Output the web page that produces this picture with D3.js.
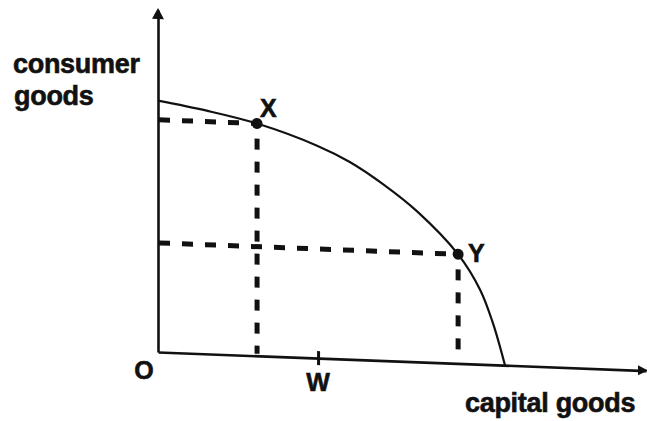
<!DOCTYPE html>
<html>
<head>
<meta charset="utf-8">
<script src="https://cdn.jsdelivr.net/npm/d3@7"></script>
<style>
	html, body { margin: 0; padding: 0; background: #fff; }
	text { font-family: 'Liberation Sans', Arial, sans-serif; font-weight: bold; fill: #111; stroke: #111; stroke-width: 0.6px; }
</style>
</head>
<body>
<div id="app"></div>
<script>

// production possibility frontier (arbitrary units, 0-100 on each axis)
const capitalGoods = [0, 10.0, 20.3, 32.6, 39.3, 46.1, 53.1, 61.5, 66.0, 68.6, 71.1];
const consumerGoods = [73.5, 71.1, 67.9, 62.1, 57.7, 51.6, 44.0, 31.9, 21.8, 12.3, 0];

// the two marked combinations
const pointNames = ['X', 'Y'];
const pointCapital = [20.3, 61.5];
const pointConsumer = [67.9, 31.9];

// tick on the capital goods axis
const tickNames = ['W'];
const tickValues = [32.8];

const axisLabels = ['consumer', 'goods', 'capital goods', 'O'];

const chart = () => {

	const width = 647,
		height = 421,
		margin = { top: 10, left: 158, bottom: 69 },
		plotW = 488,
		plotH = height - margin.top - margin.bottom,
		skew = 2.18; // the scan is slightly tilted

	const xScale = d3.scaleLinear()
		.domain([0, 100])
		.range([0, plotW]);

	const yScale = d3.scaleLinear()
		.domain([0, 100])
		.range([plotH, 0]);

	const svg = d3.select('#app').append('svg')
		.attr('width', width)
		.attr('height', height);

	svg.append('rect')
		.attr('width', width)
		.attr('height', height)
		.attr('fill', '#fff');

	// axis titles
	svg.append('text')
		.attr('x', 13)
		.attr('y', 73)
		.style('font-size', '27px')
		.style('letter-spacing', '-0.3px')
		.text(axisLabels[0]);
	svg.append('text')
		.attr('x', 14)
		.attr('y', 105)
		.style('font-size', '27px')
		.style('letter-spacing', '-0.3px')
		.text(axisLabels[1]);
	svg.append('text')
		.attr('x', 465)
		.attr('y', 412)
		.style('font-size', '27px')
		.style('letter-spacing', '-0.3px')
		.text(axisLabels[2]);

	const g = svg.append('g')
		.attr('transform', `translate(${ margin.left },${ margin.top + plotH }) skewY(${ skew })`);

	const plot = g.append('g')
		.attr('transform', `translate(0,${ -plotH })`);

	// keep text upright inside the skewed group
	const uprightText = (sel, x, y) => sel
		.attr('transform', `translate(${ x },${ y }) skewY(${ -skew })`);

	// dashed guides
	const guides = plot.append('g')
		.attr('stroke', '#111')
		.attr('stroke-width', 5)
		.attr('stroke-dasharray', '11,12');

	pointNames.forEach((name, i) => {
		guides.append('line')
			.attr('x1', xScale(0) + 1)
			.attr('y1', yScale(pointConsumer[i]))
			.attr('x2', xScale(pointCapital[i]))
			.attr('y2', yScale(pointConsumer[i]));
		guides.append('line')
			.attr('x1', xScale(pointCapital[i]))
			.attr('y1', yScale(pointConsumer[i]) + 15)
			.attr('x2', xScale(pointCapital[i]))
			.attr('y2', yScale(0) - 2);
	});

	// axes
	const xAxis = d3.axisBottom(xScale)
		.tickValues(tickValues)
		.tickFormat('')
		.tickSizeOuter(0)
		.tickSizeInner(7);
	const xAxisG = plot.append('g')
		.attr('transform', `translate(0,${ plotH })`)
		.call(xAxis);
	xAxisG.select('.domain')
		.attr('stroke', '#111')
		.attr('stroke-width', 2.6);
	xAxisG.selectAll('.tick line')
		.attr('stroke', '#111')
		.attr('stroke-width', 3)
		.attr('y1', -7);

	const yAxis = d3.axisLeft(yScale)
		.tickValues([])
		.tickSizeOuter(0);
	plot.append('g')
		.call(yAxis)
		.select('.domain')
		.attr('stroke', '#111')
		.attr('stroke-width', 2.6);

	// arrow heads
	plot.append('path')
		.attr('d', `M${ xScale(0) },${ yScale(100) - 2 } l-6,11 l12,0 z`)
		.attr('fill', '#111');
	plot.append('path')
		.attr('d', `M${ xScale(100) + 2 },${ yScale(0) } l-10,-5 l0,10 z`)
		.attr('fill', '#111');

	// frontier
	const line = d3.line()
		.x(d => xScale(d[0]))
		.y(d => yScale(d[1]))
		.curve(d3.curveCatmullRom.alpha(0.5));

	plot.append('path')
		.datum(d3.zip(capitalGoods, consumerGoods))
		.attr('d', line)
		.attr('fill', 'none')
		.attr('stroke', '#111')
		.attr('stroke-width', 2.2);

	// points
	pointNames.forEach((name, i) => {
		plot.append('circle')
			.attr('cx', xScale(pointCapital[i]))
			.attr('cy', yScale(pointConsumer[i]))
			.attr('r', 5.5)
			.attr('fill', '#111');
		// X sits just above its dot, Y to the right of it
		plot.append('text')
			.call(uprightText,
				xScale(pointCapital[i]) + (i === 0 ? 3 : 10),
				yScale(pointConsumer[i]) + (i === 0 ? -7 : 7))
			.style('font-size', '25px')
			.text(name);
	});

	// tick labels and origin
	tickNames.forEach((name, i) => {
		plot.append('text')
			.call(uprightText, xScale(tickValues[i]), plotH + 33)
			.attr('text-anchor', 'middle')
			.style('font-size', '25px')
			.text(name);
	});

	plot.append('text')
		.call(uprightText, xScale(0) - 14, plotH + 28)
		.attr('text-anchor', 'middle')
		.style('font-size', '25px')
		.text(axisLabels[3]);

};

chart();

</script>
</body>
</html>
